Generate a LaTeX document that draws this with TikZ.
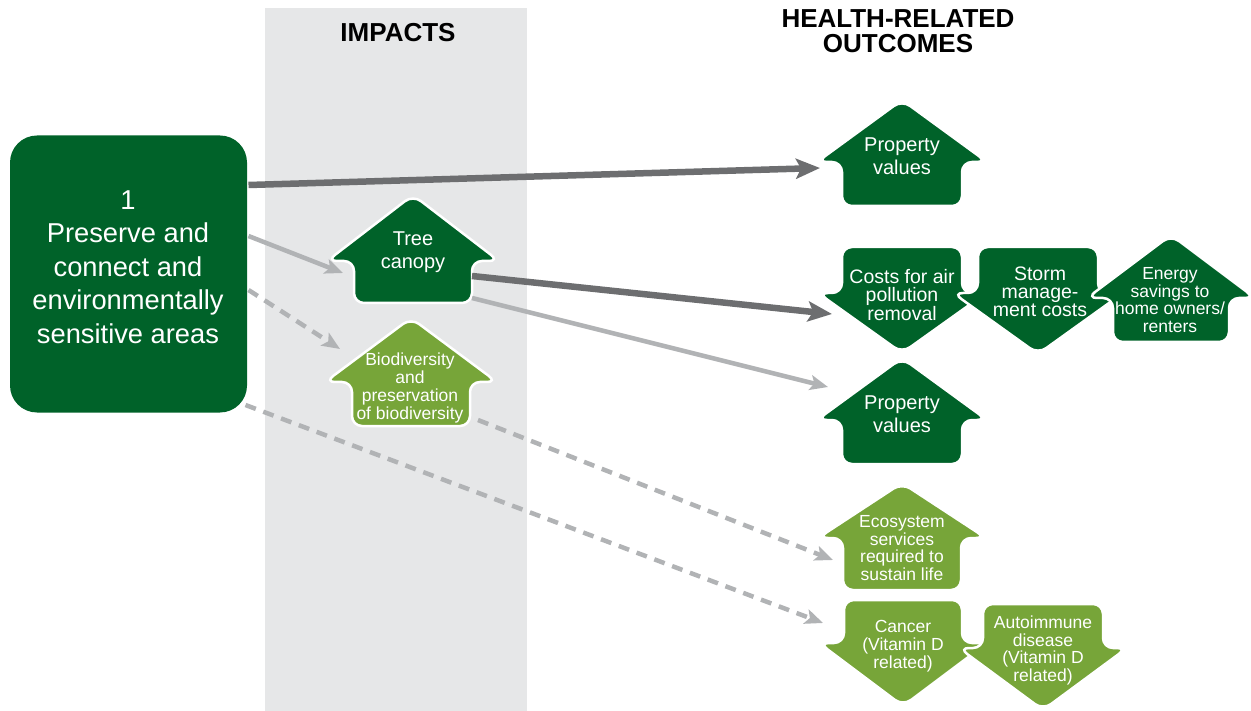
\documentclass[tikz,border=0pt]{standalone}
\usepackage{fontspec}
\setmainfont{Liberation Sans}
\usetikzlibrary{arrows.meta,calc}
\definecolor{dkgreen}{RGB}{0,98,41}
\definecolor{ltgreen}{RGB}{119,165,57}
\definecolor{bandgray}{RGB}{230,231,232}
\definecolor{dkgray}{RGB}{109,110,112}
\definecolor{ltgray}{RGB}{177,179,181}
% #1 cx, #2 top, #3 ledge, #4 bottom, #5 half body, #6 half roof, #7 colour
\newcommand\UpShape[7]{\draw[shapeline,fill=#7] (#1,#4) -- (#1+#5,#4) -- (#1+#5,#3) -- (#1+#6+4,#3) -- (#1,#2-2) -- (#1-#6-4,#3) -- (#1-#5,#3) -- (#1-#5,#4) -- cycle;}
% #1 cx, #2 top, #3 ledge, #4 apex, #5 half body, #6 half head, #7 colour
\newcommand\DownShape[7]{\draw[shapeline,fill=#7] (#1,#2) -- (#1+#5,#2) -- (#1+#5,#3) -- (#1+#6+4,#3) -- (#1,#4+2) -- (#1-#6-4,#3) -- (#1-#5,#3) -- (#1-#5,#2) -- cycle;}
\tikzset{
  shapeline/.style={draw=white, line width=2.5pt, rounded corners=10pt},
  lbl/.style={text=white, align=center, inner sep=0pt, anchor=center},
  lblbig/.style={lbl, font=\fontsize{20}{23}\selectfont},
  lbltight/.style={lbl, font=\fontsize{19.5}{18}\selectfont},
  lblsmall/.style={lbl, font=\fontsize{17.5}{17.7}\selectfont},
  header/.style={align=center, inner sep=0pt, anchor=center, font=\fontsize{26}{25}\selectfont\bfseries},
  mainbox/.style={fill=dkgreen, draw=none, rounded corners=27pt, minimum width=237pt, minimum height=277pt, inner sep=0pt},
  darkconn/.style={draw=dkgray, line width=6.5pt, -{Stealth[length=24pt,width=20pt,inset=5pt]}},
  lightconn/.style={draw=ltgray, line width=4.5pt, -{Stealth[length=18pt,width=15pt,inset=4pt]}},
  dashconn/.style={lightconn, dash pattern=on 11pt off 8pt},
}
\begin{document}
\begin{tikzpicture}[x=1pt,y=-1pt]
\useasboundingbox (0,0) rectangle (1251,711);
% impacts band
\fill[bandgray] (265,8) rectangle (527,711);
% headers
\node[header] (hdrimp) at (398,32.7) {IMPACTS};
\node[header] (hdrhealth) at (898,31.2) {HEALTH-RELATED\\OUTCOMES};
% source box
\node[mainbox] (src) at (128.5,274) {};
\node[lbl, font=\fontsize{27.3}{33.5}\selectfont] (srclabel) at (128,267) {1\\Preserve and\\connect and\\environmentally\\sensitive areas};
% impacts shapes
\UpShape{413}{197}{261}{303}{59}{82}{dkgreen}
\node[lblbig] (tree) at (413,252) {Tree\\canopy};
\UpShape{411}{320}{382}{426}{59}{82}{ltgreen}
\node[lblsmall] (bio) at (410,388) {Biodiversity\\and\\preservation\\of biodiversity};
% outcomes shapes
\UpShape{902}{102}{162}{206}{60}{81}{dkgreen}
\node[lblbig] (prop1) at (902,156) {Property\\values};
\DownShape{902}{247}{293}{351}{60}{80}{dkgreen}
\node[lbltight] (costs) at (902,295) {Costs for air\\pollution\\removal};
\DownShape{1038}{247}{293}{352}{60}{81}{dkgreen}
\node[lbltight] (storm) at (1040,292) {Storm\\manage-\\ment costs};
\UpShape{1171}{237}{298}{342}{58}{80}{dkgreen}
\node[lblsmall] (energy) at (1170,300) {Energy\\savings to\\home owners/\\renters};
\UpShape{902}{360}{420}{464}{60}{81}{dkgreen}
\node[lblbig] (prop2) at (902,414) {Property\\values};
\UpShape{902}{485}{538}{590}{59}{80}{ltgreen}
\node[lblsmall] (eco) at (902,548) {Ecosystem\\services\\required to\\sustain life};
\DownShape{903}{600}{643}{704}{59}{80}{ltgreen}
\node[lblsmall] (cancer) at (903,646) {Cancer\\(Vitamin D\\related)};
\DownShape{1043}{604}{648}{708}{60}{80}{ltgreen}
\node[lblsmall] (auto) at (1043,650.5) {Autoimmune\\disease\\(Vitamin D\\related)};
% connectors
\draw[darkconn] ($(src.center)+(120,-89)$) -- ($(prop1.center)+(-82,12)$);
\draw[lightconn] ($(src.center)+(120,-38)$) -- ($(tree.center)+(-70,21)$);
\draw[dashconn] ($(src.center)+(120,16)$) -- ($(bio.center)+(-70,-39)$);
\draw[dashconn] ($(src.center)+(117,131)$) -- ($(cancer.center)+(-80,-23)$);
\draw[darkconn] ($(tree.center)+(59,24)$) -- ($(costs.center)+(-70,19)$);
\draw[lightconn] ($(tree.center)+(59,46)$) -- ($(prop2.center)+(-74,-27)$);
\draw[dashconn] ($(bio.center)+(68,32)$) -- ($(eco.center)+(-69,12)$);
\end{tikzpicture}
\end{document}
